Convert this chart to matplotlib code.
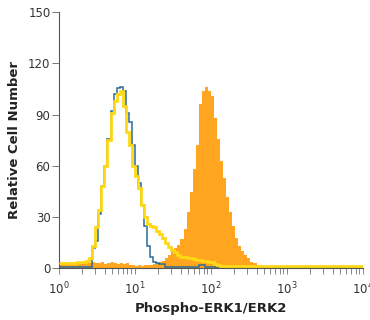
import numpy as np
import matplotlib
matplotlib.use("Agg")
from matplotlib import pyplot as plt
from matplotlib.ticker import LogLocator

plt.rcParams['font.family'] = ['DejaVu Sans Condensed', 'Liberation Sans Narrow', 'DejaVu Sans']
plt.rcParams['mathtext.default'] = 'regular'

# histogram channels: 100 bins, 0.04 decade each, from 10^0 to 10^4
bin_width = 0.04
n_bins = 100

# phospho-ERK1/ERK2 stained (filled orange)
stained = [3.5, 3, 3.5, 3, 3.5, 3, 3.5, 4, 3, 3.5,
           3, 3.5, 3, 3, 3.5, 2.5, 3, 3.5, 3, 2.5,
           3, 2.5, 3, 2, 2, 1.5, 2, 1.5, 2, 2,
           2, 2.5, 3, 3.5, 4.5, 6, 8, 10, 12, 14,
           17, 23, 33, 45, 58, 72, 96, 104, 106, 104,
           101, 88, 76, 63, 53, 42, 33, 25, 18, 13,
           10, 8, 6, 4, 3, 2, 1.5, 1, 1, 1,
           1, 1, 1, 1, 1, 1, 1, 1, 1, 1,
           1, 1, 1, 1, 1, 1, 1, 1, 1, 1,
           1, 1, 1, 1, 1, 1, 1, 1, 1, 1]

# isotype control (blue outline)
isotype = [0.7, 0.7, 0.7, 0.7, 0.7, 0.7, 0.7, 0.7, 0.7, 0.7,
           1, 12, 16, 32, 48, 60, 76, 92, 102, 105.5,
           106, 104, 91, 86, 72, 60, 50, 37, 25, 13,
           7, 4, 3, 2.5, 2.5, 1, 0.7, 0.7, 0.7, 0.7,
           0.7, 0.7, 0.7, 0.7, 0.7, 0.7, 2, 2, 1, 0.7,
           0.7, 0.7, 0.7, 0.7, 0.7, 0.7, 0.7, 0.7, 0.7, 0.7,
           0.7, 0.7, 0.7, 0.7, 0.7, 0.7, 0.7, 0.7, 0.7, 0.7,
           0.7, 0.7, 0.7, 0.7, 0.7, 0.7, 0.7, 0.7, 0.7, 0.7,
           0.7, 0.7, 0.7, 0.7, 0.7, 0.7, 0.7, 0.7, 0.7, 0.7,
           0.7, 0.7, 0.7, 0.7, 0.7, 0.7, 0.7, 0.7, 0.7, 0.7]

# unstained / secondary only (yellow outline)
unstained = [3, 3, 3, 3, 3, 3, 3.5, 3.5, 4, 4.5,
             6, 13, 24, 34, 48, 60, 75, 91, 98, 102,
             104, 95, 80, 72, 60, 54, 47, 37, 30, 26,
             25, 24, 22, 20, 18, 15, 12.5, 11, 9.5, 8,
             7, 6.5, 6, 6, 5.5, 5, 5, 4.5, 4.5, 4,
             3.5, 2.5, 2, 1.5, 1.5, 1.5, 1.5, 1.5, 1.5, 1.5,
             1.5, 1.5, 1.5, 1.5, 1.5, 1.5, 1.5, 1.5, 1.5, 1.5,
             1.5, 1.5, 1.5, 1.5, 1.5, 1.5, 1.5, 1.5, 1.5, 1.5,
             1.5, 1.5, 1.5, 1.5, 1.5, 1.5, 1.5, 1.5, 1.5, 1.5,
             1.5, 1.5, 1.5, 1.5, 1.5, 1.5, 1.5, 1.5, 1.5, 1.5]

y_ticks = [0, 30, 60, 90, 120, 150]

edges = 10 ** (np.arange(n_bins + 1) * bin_width)

fig = plt.figure(figsize=(3.7, 3.2), dpi=100)
ax = fig.add_axes([0.159, 0.161, 0.822, 0.801])

ax.stairs(stained, edges, fill=True, color='#FFA51F', linewidth=0, zorder=1)
ax.stairs(isotype, edges, baseline=None, color='#2A6B98', linewidth=1.1, zorder=2)
ax.stairs(unstained, edges, baseline=None, color='#FFD814', linewidth=2.0, zorder=3)

ax.set_xscale('log')
ax.set_xlim(1, 1e4)
ax.set_ylim(0, 150)
ax.set_yticks(y_ticks)
ax.xaxis.set_major_locator(LogLocator(base=10, numticks=10))
ax.xaxis.set_minor_locator(LogLocator(base=10, subs=np.arange(2, 10), numticks=20))

for side in ['top', 'right']:
    ax.spines[side].set_visible(False)
for side in ['left', 'bottom']:
    ax.spines[side].set_color('#555555')
    ax.spines[side].set_linewidth(0.8)

ax.tick_params(axis='y', direction='out', length=5, width=0.7, color='#777777',
               labelsize=8.5, labelcolor='#333333', pad=1)
ax.tick_params(axis='x', which='major', direction='out', length=4, width=0.7,
               color='#888888', labelsize=8.5, labelcolor='#333333', pad=5)
ax.tick_params(axis='x', which='minor', direction='out', length=4, width=0.7,
               color='#888888')

ax.set_xlabel('Phospho-ERK1/ERK2', fontsize=9.5, fontweight='bold', color='#222222', labelpad=3)
ax.set_ylabel('Relative Cell Number', fontsize=9.5, fontweight='bold', color='#222222', labelpad=5)

fig.savefig('out.png', dpi=100)
